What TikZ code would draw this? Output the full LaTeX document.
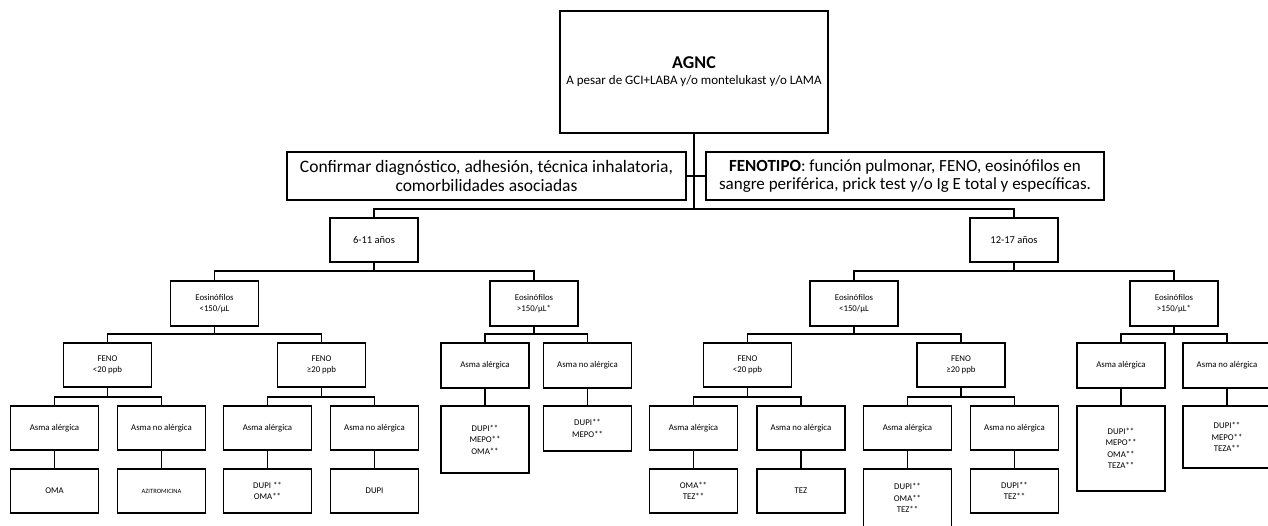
\documentclass[tikz,border=0pt]{standalone}
\usepackage{fontspec}
\setmainfont{Carlito}
\tikzset{
  box/.style={draw, line width=1.3pt, inner sep=1pt, align=center, font=\fontsize{8.8}{11.5}\selectfont},
  bigbox/.style={box, font=\fontsize{17.5}{18.5}\selectfont},
  agebox/.style={box, font=\fontsize{10.5}{12}\selectfont},
  conn/.style={line width=1.3pt},
}
\newcommand\mkfork[4]{%
  \draw[conn] (#1.south) -- (#1.south |- 0,#4);
  \draw[conn] (#2.north) -- (#2.north |- 0,#4) -- (#3.north |- 0,#4) -- (#3.north);
}
\begin{document}
\begin{tikzpicture}[x=1pt,y=-1pt]
\useasboundingbox[fill=white] (0,0) rectangle (1268,526);
% top
\node[box, font=\fontsize{13}{15}\selectfont, minimum width=268pt, minimum height=122pt] (top) at (694,72)
  {{\fontsize{18}{19}\selectfont\bfseries AGNC}\\[1pt]A pesar de GCI+LABA y/o montelukast y/o LAMA};
\node[bigbox, minimum width=399pt, minimum height=48pt] (conf) at (486.5,176)
  {Confirmar diagnóstico, adhesión, técnica inhalatoria,\\comorbilidades asociadas};
\node[bigbox, font=\fontsize{17}{18.5}\selectfont, minimum width=398pt, minimum height=48pt] (fen) at (905,176)
  {\textbf{FENOTIPO}: función pulmonar, FENO, eosinófilos en\\sangre periférica, prick test y/o Ig E total y específicas.};
% ages
\node[agebox, minimum width=88pt, minimum height=44pt] (a611) at (374,240) {6-11 años};
\node[agebox, minimum width=88pt, minimum height=44pt] (a1217) at (1014,240) {12-17 años};
% eosinophils
\node[box, minimum width=88pt, minimum height=45pt] (e1) at (214.5,303.5) {Eosinófilos\\<150/µL};
\node[box, minimum width=88pt, minimum height=45pt] (e2) at (534,303.5) {Eosinófilos\\>150/µL*};
\node[box, minimum width=88pt, minimum height=45pt] (e3) at (854,303.5) {Eosinófilos\\<150/µL};
\node[box, minimum width=88pt, minimum height=45pt] (e4) at (1174,303.5) {Eosinófilos\\>150/µL*};
% FENO
\node[box, minimum width=88pt, minimum height=44pt] (f1) at (107.5,365) {FENO\\<20 ppb};
\node[box, minimum width=88pt, minimum height=44pt] (f2) at (321.5,365) {FENO\\≥20 ppb};
\node[box, minimum width=88pt, minimum height=44pt] (f3) at (747.5,365) {FENO\\<20 ppb};
\node[box, minimum width=88pt, minimum height=44pt] (f4) at (961,365) {FENO\\≥20 ppb};
% asma under eos>150
\node[box, minimum width=88pt, minimum height=45pt] (g1) at (485,365.5) {Asma alérgica};
\node[box, minimum width=88pt, minimum height=45pt] (g2) at (587.5,365.5) {Asma no alérgica};
\node[box, minimum width=88pt, minimum height=45pt] (g3) at (1121,365.5) {Asma alérgica};
\node[box, minimum width=88pt, minimum height=45pt] (g4) at (1227,365.5) {Asma no alérgica};
% row 1
\node[box, minimum width=88pt, minimum height=44pt] (r1) at (54.5,428) {Asma alérgica};
\node[box, minimum width=88pt, minimum height=44pt] (r2) at (161.5,428) {Asma no alérgica};
\node[box, minimum width=88pt, minimum height=44pt] (r3) at (267.5,428) {Asma alérgica};
\node[box, minimum width=88pt, minimum height=44pt] (r4) at (374.5,428) {Asma no alérgica};
\node[box, minimum width=88pt, minimum height=44pt] (r5) at (693.5,428) {Asma alérgica};
\node[box, minimum width=88pt, minimum height=44pt] (r6) at (801,428) {Asma no alérgica};
\node[box, minimum width=88pt, minimum height=44pt] (r7) at (907.5,428) {Asma alérgica};
\node[box, minimum width=88pt, minimum height=44pt] (r8) at (1014.5,428) {Asma no alérgica};
% row 2
\node[box, minimum width=88pt, minimum height=44pt] (t1) at (54.5,491) {OMA};
\node[box, font=\fontsize{6.5}{8}\selectfont, minimum width=88pt, minimum height=44pt] (t2) at (161.5,491) {AZITROMICINA};
\node[box, minimum width=88pt, minimum height=44pt] (t3) at (267.5,491) {DUPI **\\OMA**};
\node[box, minimum width=88pt, minimum height=44pt] (t4) at (374.5,491) {DUPI};
\node[box, minimum width=88pt, minimum height=44pt] (t5) at (693.5,491) {OMA**\\TEZ**};
\node[box, minimum width=88pt, minimum height=44pt] (t6) at (801,491) {TEZ};
\node[box, minimum width=88pt, minimum height=58pt] (t7) at (907.5,498) {DUPI**\\OMA**\\TEZ**};
\node[box, minimum width=88pt, minimum height=44pt] (t8) at (1014.5,491) {DUPI**\\TEZ**};
\node[box, minimum width=88pt, minimum height=67pt] (h1) at (485,439.5) {DUPI**\\MEPO**\\OMA**};
\node[box, minimum width=88pt, minimum height=45pt] (h2) at (587.5,428.5) {DUPI**\\MEPO**};
\node[box, minimum width=88pt, minimum height=85pt] (h3) at (1121,448.5) {DUPI**\\MEPO**\\OMA**\\TEZA**};
\node[box, minimum width=88pt, minimum height=62pt] (h4) at (1227,437) {DUPI**\\MEPO**\\TEZA**};
% connectors
\draw[conn] (top.south) -- (top.south |- 0,209);
\draw[conn] (conf.east) -- (fen.west);
\draw[conn] (a611.north) -- (a611.north |- 0,209) -- (a1217.north |- 0,209) -- (a1217.north);
\mkfork{a611}{e1}{e2}{271}
\mkfork{a1217}{e3}{e4}{271}
\mkfork{e1}{f1}{f2}{334}
\mkfork{e2}{g1}{g2}{334}
\mkfork{e3}{f3}{f4}{334}
\mkfork{e4}{g3}{g4}{334}
\mkfork{f1}{r1}{r2}{397}
\mkfork{f2}{r3}{r4}{397}
\mkfork{f3}{r5}{r6}{397}
\mkfork{f4}{r7}{r8}{397}
\foreach \p/\c in {r1/t1,r2/t2,r3/t3,r4/t4,r5/t5,r6/t6,r7/t7,r8/t8,g1/h1,g2/h2,g3/h3,g4/h4}
  \draw[conn] (\p.south) -- (\c.north);
\end{tikzpicture}
\end{document}
